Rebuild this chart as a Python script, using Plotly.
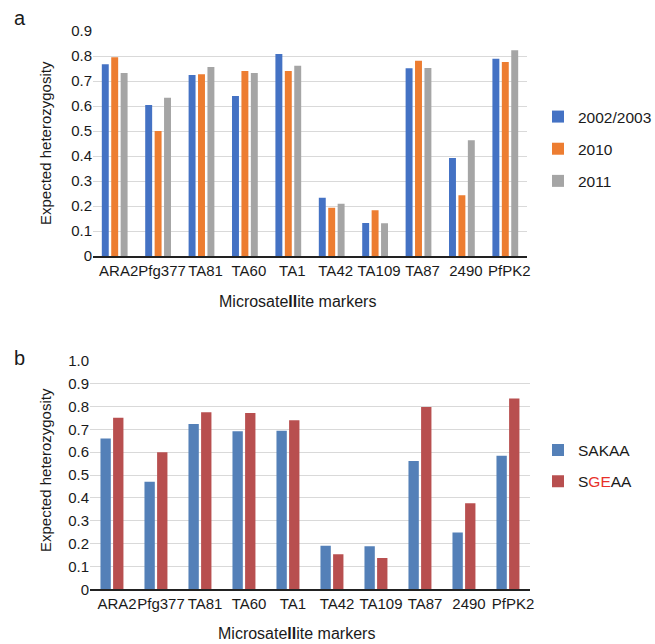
import plotly.graph_objects as go

markers = ["ARA2", "Pfg377", "TA81", "TA60", "TA1", "TA42", "TA109", "TA87", "2490", "PfPK2"]

he_2002_2003 = [0.767, 0.604, 0.724, 0.640, 0.808, 0.233, 0.132, 0.751, 0.392, 0.789]
he_2010 = [0.795, 0.500, 0.727, 0.740, 0.740, 0.193, 0.183, 0.781, 0.243, 0.776]
he_2011 = [0.732, 0.633, 0.756, 0.732, 0.761, 0.209, 0.131, 0.752, 0.463, 0.823]

he_sakaa = [0.660, 0.471, 0.723, 0.691, 0.694, 0.191, 0.188, 0.561, 0.249, 0.584]
he_sgeaa = [0.750, 0.599, 0.775, 0.771, 0.739, 0.153, 0.137, 0.798, 0.376, 0.835]

top_ticks = [0, 0.1, 0.2, 0.3, 0.4, 0.5, 0.6, 0.7, 0.8, 0.9]
top_ticktext = ["0", "0.1", "0.2", "0.3", "0.4", "0.5", "0.6", "0.7", "0.8", "0.9"]
bot_ticks = [0, 0.1, 0.2, 0.3, 0.4, 0.5, 0.6, 0.7, 0.8, 0.9, 1.0]
bot_ticktext = ["0", "0.1", "0.2", "0.3", "0.4", "0.5", "0.6", "0.7", "0.8", "0.9", "1.0"]

W, H = 655, 644
FONT = "Liberation Sans, Arial, sans-serif"
TXT = "#1a1a1a"

fig = go.Figure()

top_series = [
    ("2002/2003", he_2002_2003, "#4472C4", -0.297),
    ("2010", he_2010, "#ED7D31", -0.080),
    ("2011", he_2011, "#A5A5A5", 0.137),
]
for i, (name, vals, col, off) in enumerate(top_series):
    fig.add_trace(go.Bar(
        x=markers, y=vals, name=name, marker_color=col,
        marker_line_width=0, width=0.16, offset=off,
        xaxis="x", yaxis="y", legend="legend", legendgroup="t%d" % i,
    ))

bot_series = [
    ("SAKAA", he_sakaa, "#5480B8", -0.262),
    ("S<span style='color:#E8302A'>GE</span>AA", he_sgeaa, "#B84F4F", 0.025),
]
for i, (name, vals, col, off) in enumerate(bot_series):
    fig.add_trace(go.Bar(
        x=markers, y=vals, name=name, marker_color=col,
        marker_line_width=0, width=0.235, offset=off,
        xaxis="x2", yaxis="y2", legend="legend2", legendgroup="b%d" % i,
    ))

def px_x(p):
    return p / W

def px_y(p):
    return 1 - p / H

xtick_font = dict(family=FONT, size=15, color=TXT)
ytick_font = dict(family=FONT, size=15, color=TXT)
legend_font = dict(family=FONT, size=15.5, color=TXT)

fig.update_layout(
    width=W, height=H,
    margin=dict(l=0, r=0, t=0, b=0, autoexpand=False),
    paper_bgcolor="white", plot_bgcolor="white",
    barmode="overlay",
    font=dict(family=FONT, size=15, color=TXT),
    xaxis=dict(domain=[px_x(93), px_x(527)], anchor="y", type="category",
               range=[-0.5, 9.5], showline=True, linecolor="#222222", linewidth=1.5,
               ticks="", showgrid=False, tickangle=0, ticklabelshift=4,
               tickfont=xtick_font, automargin=False),
    yaxis=dict(domain=[px_y(256), px_y(31)], anchor="x", range=[0, 0.9],
               tickvals=top_ticks, ticktext=top_ticktext,
               showgrid=True, gridcolor="#D9D9D9", gridwidth=1,
               zeroline=False, showline=False, ticks="", tickfont=ytick_font,
               automargin=False),
    xaxis2=dict(domain=[px_x(90), px_x(530)], anchor="y2", type="category",
                range=[-0.5, 9.5], showline=True, linecolor="#222222", linewidth=1.5,
                ticks="", showgrid=False, tickangle=0, ticklabelshift=5,
                tickfont=xtick_font, automargin=False),
    yaxis2=dict(domain=[px_y(589.3), px_y(360.7)], anchor="x2", range=[0, 1.0],
                tickvals=bot_ticks, ticktext=bot_ticktext,
                showgrid=True, gridcolor="#D9D9D9", gridwidth=1,
                zeroline=False, showline=False, ticks="", tickfont=ytick_font,
                automargin=False),
    legend=dict(x=px_x(538), y=px_y(149), xanchor="left", yanchor="middle",
                font=legend_font,
                traceorder="grouped", tracegroupgap=9, bgcolor="rgba(0,0,0,0)"),
    legend2=dict(x=px_x(538), y=px_y(466), xanchor="left", yanchor="middle",
                 font=legend_font,
                 traceorder="grouped", tracegroupgap=8, bgcolor="rgba(0,0,0,0)"),
    annotations=[
        dict(text="a", x=px_x(12), y=px_y(18), xref="paper", yref="paper",
             xanchor="left", yanchor="middle", showarrow=False,
             font=dict(family=FONT, size=20, color=TXT)),
        dict(text="b", x=px_x(12), y=px_y(358), xref="paper", yref="paper",
             xanchor="left", yanchor="middle", showarrow=False,
             font=dict(family=FONT, size=20, color=TXT)),
        dict(text="Expected heterozygosity", x=px_x(45), y=px_y(143),
             xref="paper", yref="paper", textangle=-90, showarrow=False,
             xanchor="center", yanchor="middle",
             font=dict(family=FONT, size=15, color=TXT)),
        dict(text="Expected heterozygosity", x=px_x(45), y=px_y(470),
             xref="paper", yref="paper", textangle=-90, showarrow=False,
             xanchor="center", yanchor="middle",
             font=dict(family=FONT, size=15, color=TXT)),
        dict(text="Microsate<b>ll</b>ite markers", x=px_x(297), y=px_y(301),
             xref="paper", yref="paper", showarrow=False,
             xanchor="center", yanchor="middle",
             font=dict(family=FONT, size=16, color=TXT)),
        dict(text="Microsate<b>ll</b>ite markers", x=px_x(296), y=px_y(633),
             xref="paper", yref="paper", showarrow=False,
             xanchor="center", yanchor="middle",
             font=dict(family=FONT, size=16, color=TXT)),
    ],
)

fig.write_html("out.html")
